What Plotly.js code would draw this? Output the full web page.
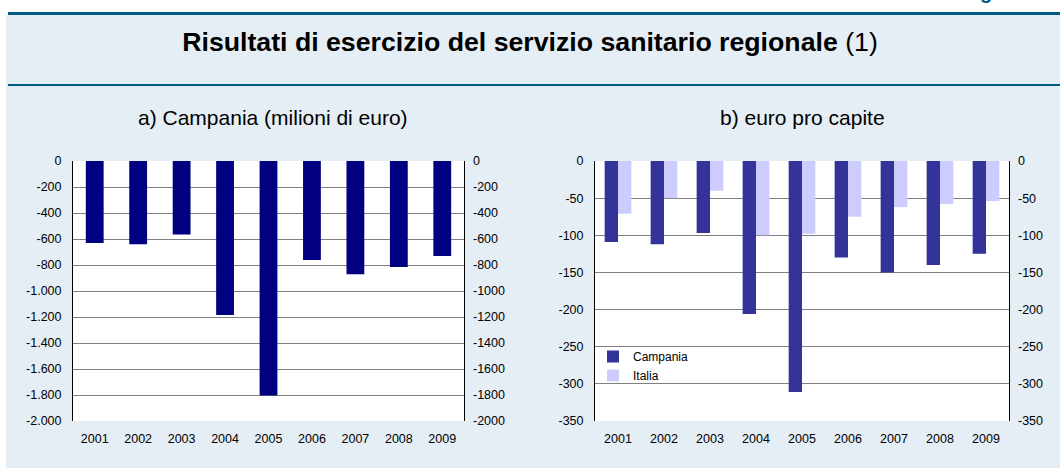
<!DOCTYPE html>
<html>
<head>
<meta charset="utf-8">
<script src="https://cdn.plot.ly/plotly-3.0.1.min.js"></script>
<style>html,body{margin:0;padding:0;background:#fff;}#chart{width:1060px;height:468px;}</style>
</head>
<body>
<div id="chart"></div>
<script>
// ---- data ----
const years = ['2001','2002','2003','2004','2005','2006','2007','2008','2009'];
const campaniaMilioni = [-630, -640, -565, -1185, -1803, -762, -872, -815, -731];
const campaniaProCapite = [-109, -112, -97, -206, -311, -130, -150, -140, -125];
const italiaProCapite = [-71, -50, -40, -100, -98, -75, -62, -58, -54];
const leftTickVals = [0, -200, -400, -600, -800, -1000, -1200, -1400, -1600, -1800, -2000];
const leftTickTextL = ['0','-200','-400','-600','-800','-1.000','-1.200','-1.400','-1.600','-1.800','-2.000'];
const leftTickTextR = ['0','-200','-400','-600','-800','-1000','-1200','-1400','-1600','-1800','-2000'];
const rightTickVals = [0, -50, -100, -150, -200, -250, -300, -350];
const rightTickText = ['0','-50','-100','-150','-200','-250','-300','-350'];

const W = 1060, H = 468;
const px = v => v / W;
const py = v => 1 - v / H;
const FAM = 'Arial, "Liberation Sans", sans-serif';
const tickFont = {family: FAM, size: 12.5, color: '#000'};
const navy = '#000080';

const traces = [
  {type: 'bar', x: years, y: campaniaMilioni, xaxis: 'x', yaxis: 'y',
   marker: {color: navy}, width: 0.41, showlegend: false, name: 'Campania'},
  // empty helpers so that the right-hand mirror axes are drawn (no marks)
  {type: 'scatter', mode: 'markers', x: [], y: [], xaxis: 'x', yaxis: 'y3',
   showlegend: false, hoverinfo: 'skip'},
  {type: 'bar', x: years, y: campaniaProCapite, xaxis: 'x2', yaxis: 'y2',
   marker: {color: '#333399'}, name: 'Campania'},
  {type: 'bar', x: years, y: italiaProCapite, xaxis: 'x2', yaxis: 'y2',
   marker: {color: '#ccccff'}, name: 'Italia'},
  {type: 'scatter', mode: 'markers', x: [], y: [], xaxis: 'x2', yaxis: 'y4',
   showlegend: false, hoverinfo: 'skip'}
];

const baseY = {
  showline: true, linecolor: '#000', linewidth: 1, mirror: true,
  showgrid: true, gridcolor: '#808080', gridwidth: 1, zeroline: false,
  ticks: '', tickfont: tickFont, tickmode: 'array', fixedrange: true,
  domain: [py(421), py(161)]
};
const baseX = {
  type: 'category', categoryorder: 'array', categoryarray: years,
  showline: false, showgrid: false, zeroline: false, ticks: '',
  tickfont: tickFont, ticklabelstandoff: 8, fixedrange: true
};
const baseRight = {
  side: 'right', tickmode: 'array',
  showgrid: false, zeroline: false, showline: false, ticks: '',
  tickfont: tickFont, ticklabelstandoff: 8, fixedrange: true
};

const layout = {
  width: W, height: H,
  margin: {l: 0, r: 0, t: 0, b: 0},
  paper_bgcolor: '#e6eef5',
  plot_bgcolor: '#ffffff',
  font: {family: FAM, color: '#000'},
  barmode: 'group',
  bargap: 0.42,
  bargroupgap: 0,
  title: {
    text: '<b>Risultati di esercizio del servizio sanitario regionale</b> (1)',
    font: {family: FAM, size: 26.7, color: '#000'},
    x: 0.5, xanchor: 'center', xref: 'paper',
    y: py(42), yanchor: 'middle', yref: 'paper'
  },
  xaxis: Object.assign({}, baseX, {domain: [px(73), px(464)], anchor: 'y'}),
  yaxis: Object.assign({}, baseY, {anchor: 'x', range: [-2000, 0],
    tickvals: leftTickVals, ticktext: leftTickTextL, ticklabelstandoff: 8}),
  yaxis3: Object.assign({}, baseRight, {overlaying: 'y', anchor: 'x', range: [-2000, 0],
    tickvals: leftTickVals, ticktext: leftTickTextR}),
  xaxis2: Object.assign({}, baseX, {domain: [px(595), px(1009)], anchor: 'y2'}),
  yaxis2: Object.assign({}, baseY, {anchor: 'x2', range: [-350, 0],
    tickvals: rightTickVals, ticktext: rightTickText, ticklabelstandoff: 8}),
  yaxis4: Object.assign({}, baseRight, {overlaying: 'y2', anchor: 'x2', range: [-350, 0],
    tickvals: rightTickVals, ticktext: rightTickText}),
  legend: {
    x: px(593), y: py(342), xanchor: 'left', yanchor: 'top',
    xref: 'paper', yref: 'paper',
    bgcolor: 'rgba(255,255,255,0)', borderwidth: 0,
    font: {family: FAM, size: 12, color: '#000'},
    itemwidth: 30, tracegroupgap: 0, traceorder: 'normal'
  },
  shapes: [
    {type: 'rect', xref: 'paper', yref: 'paper', x0: 0, x1: 1, y0: py(15), y1: 1,
     fillcolor: '#ffffff', line: {width: 0}, layer: 'below'},
    {type: 'rect', xref: 'paper', yref: 'paper', x0: 0, x1: px(6), y0: 0, y1: 1,
     fillcolor: '#ffffff', line: {width: 0}, layer: 'below'},
    {type: 'rect', xref: 'paper', yref: 'paper', x0: px(8), x1: 1, y0: py(15), y1: py(12),
     fillcolor: '#005a82', line: {width: 0}, layer: 'below'},
    {type: 'rect', xref: 'paper', yref: 'paper', x0: px(8), x1: 1, y0: py(86), y1: py(84),
     fillcolor: '#005a82', line: {width: 0}, layer: 'below'}
  ],
  annotations: [
    {text: 'a) Campania (milioni di euro)', xref: 'paper', yref: 'paper',
     x: px(273), y: py(117), xanchor: 'center', yanchor: 'middle', showarrow: false,
     font: {family: FAM, size: 21, color: '#000'}},
    {text: 'b) euro pro capite', xref: 'paper', yref: 'paper',
     x: px(802), y: py(117), xanchor: 'center', yanchor: 'middle', showarrow: false,
     font: {family: FAM, size: 21, color: '#000'}},
    {text: '<b>g</b>', xref: 'paper', yref: 'paper',
     x: px(986), y: py(4), xanchor: 'center', yanchor: 'bottom', showarrow: false,
     borderpad: 0,
     font: {family: FAM, size: 20, color: '#005a82'}}
  ]
};

Plotly.newPlot('chart', traces, layout, {displayModeBar: false, staticPlot: true});
</script>
</body>
</html>
